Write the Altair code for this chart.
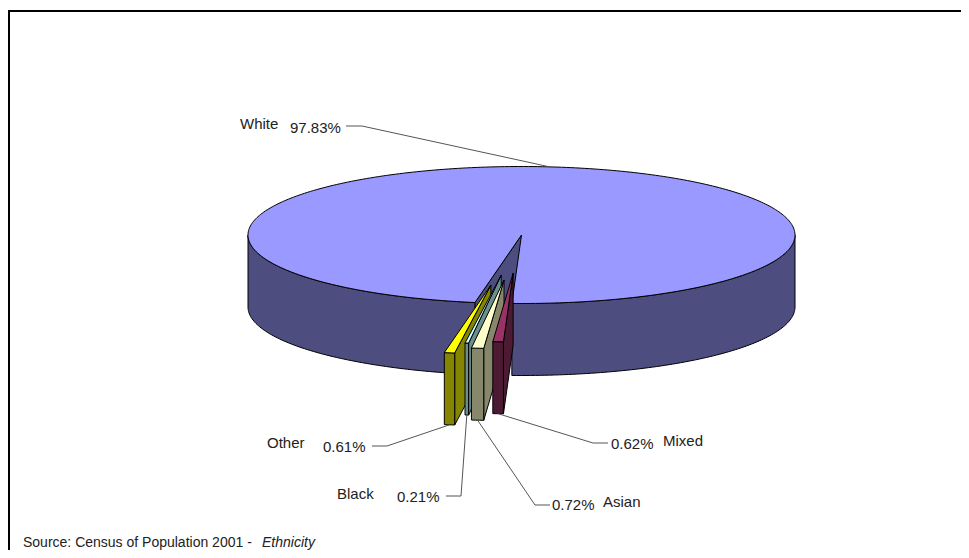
import math
import pandas as pd
import altair as alt

# ---------------- data ----------------
categories = ["White", "Mixed", "Asian", "Black", "Other"]
percent = [97.83, 0.62, 0.72, 0.21, 0.61]
pct_labels = ["97.83%", "0.62%", "0.72%", "0.21%", "0.61%"]
source_text = "Source: Census of Population 2001 - "
source_italic = "Ethnicity"

# ---------------- style / layout ----------------
top_colors = ["#9999FF", "#993366", "#FFFFCC", "#CCFFFF", "#FFFF00"]
side_colors = ["#4D4D80", "#4D1A33", "#87876B", "#6B8F8F", "#858500"]
explode = [0.0, 0.56, 0.66, 0.59, 0.74]
CX, CY, RX, RY, DEPTH = 521.5, 235.0, 273.5, 68.5, 72.0
ROTATION = 189.8
FONT = "Liberation Sans"

# label layout: (name_x, name_y, pct_x, pct_y, elbow_start, elbow_end, anchor_on_top)
label_layout = {
    "White": (240, 124, 290, 128, (346, 126), (362, 126), True),
    "Mixed": (663, 441, 611, 444, (608, 443), (593, 443), False),
    "Asian": (603, 502, 552, 505, (550, 505), (535, 505), False),
    "Black": (337, 494, 397, 497, (446, 496), (461, 496), False),
    "Other": (267, 443, 323, 447, (372, 446), (387, 446), False),
}

total = sum(percent)
angles = [p / total * 360.0 for p in percent]
starts = []
acc = ROTATION
for a in angles:
    starts.append(acc)
    acc += a


def offset(i):
    s = starts[i]
    mid = math.radians(s + angles[i] / 2)
    f = explode[i]
    return RX * math.sin(mid) * f, -RY * math.cos(mid) * f


def pt(theta, ox, oy, dz=0.0):
    t = math.radians(theta)
    return (CX + ox + RX * math.sin(t), CY + oy - RY * math.cos(t) + dz)


def arc(a0, a1, ox, oy, dz=0.0):
    n = max(2, int(abs(a1 - a0) / 1.0) + 2)
    return [pt(a0 + (a1 - a0) * k / (n - 1), ox, oy, dz) for k in range(n)]


rows = []
fills = []


def add(points, fill):
    sid = len(fills)
    for k, (x, y) in enumerate(points):
        rows.append({"shape": sid, "k": k, "x": x, "y": y})
    fills.append(fill)


def front_parts(s, e):
    parts = []
    for base in range(-2, 4):
        lo, hi = 90 + 360 * base, 270 + 360 * base
        a, b = max(s, lo), min(e, hi)
        if b > a:
            parts.append((a, b))
    return parts


def add_slice(i):
    s, e = starts[i], starts[i] + angles[i]
    ox, oy = offset(i)
    tip = (CX + ox, CY + oy)
    # visible radial cut face at start angle
    p_top = pt(s, ox, oy)
    p_bot = pt(s, ox, oy, DEPTH)
    add([tip, p_top, p_bot, (tip[0], tip[1] + DEPTH)], side_colors[i])
    # outer wall (front half only)
    for a, b in front_parts(s, e):
        add(arc(a, b, ox, oy) + arc(b, a, ox, oy, DEPTH), side_colors[i])
    # top face
    add([tip] + arc(s, e, ox, oy), top_colors[i])


for i in [0, 4, 3, 2, 1]:
    add_slice(i)

poly = pd.DataFrame(rows)

X = alt.X("x:Q", scale=alt.Scale(domain=[8, 961], nice=False, zero=False), axis=None)
Y = alt.Y("y:Q", scale=alt.Scale(domain=[8, 550], nice=False, zero=False, reverse=True), axis=None)

layers = []
for sid, fill in enumerate(fills):
    layers.append(
        alt.Chart(poly)
        .transform_filter(alt.datum.shape == sid)
        .mark_line(interpolate="linear-closed", filled=True, fill=fill,
                   stroke="black", strokeWidth=1, strokeJoin="round")
        .encode(x=X, y=Y, order="k:Q")
    )

# leader lines
lead_rows = []
text_rows = []
for i, c in enumerate(categories):
    nx, ny, px, py, e0, e1, on_top = label_layout[c]
    mid = starts[i] + angles[i] / 2
    ox, oy = offset(i)
    anchor = pt(mid, ox, oy, 0.0 if on_top else DEPTH)
    for k, (x, y) in enumerate([e0, e1, anchor]):
        lead_rows.append({"label": c, "k": k, "x": x, "y": y})
    text_rows.append({"t": c, "x": nx, "y": ny})
    text_rows.append({"t": pct_labels[i], "x": px, "y": py})

leaders = (
    alt.Chart(pd.DataFrame(lead_rows))
    .mark_line(color="#555555", strokeWidth=1)
    .encode(x=X, y=Y, detail="label:N", order="k:Q")
)

labels = (
    alt.Chart(pd.DataFrame(text_rows))
    .mark_text(align="left", baseline="middle", font=FONT, fontSize=15, color="#222222")
    .encode(x=X, y=Y, text="t:N")
)

src = pd.DataFrame([{"t": source_text, "x": 23, "y": 543, "it": "normal"},
                    {"t": source_italic, "x": 262, "y": 543, "it": "italic"}])
src_norm = (
    alt.Chart(src).transform_filter(alt.datum.it == "normal")
    .mark_text(align="left", baseline="middle", font=FONT, fontSize=14, color="#222222")
    .encode(x=X, y=Y, text="t:N")
)
src_it = (
    alt.Chart(src).transform_filter(alt.datum.it == "italic")
    .mark_text(align="left", baseline="middle", font=FONT, fontSize=14, fontStyle="italic", color="#222222")
    .encode(x=X, y=Y, text="t:N")
)

border = pd.DataFrame([{"x": 9, "y": 11, "x2": 9, "y2": 560},
                       {"x": 8, "y": 11, "x2": 975, "y2": 11}])
frame = (
    alt.Chart(border)
    .mark_rule(color="black", strokeWidth=2)
    .encode(x=X, y=Y, x2="x2:Q", y2="y2:Q")
)

chart = alt.layer(*layers, leaders, labels, src_norm, src_it, frame).properties(
    width=953, height=542, autosize="none", padding=0
).configure_view(stroke=None)

chart.save("out.html", embed_options={"renderer": "svg", "actions": False})
